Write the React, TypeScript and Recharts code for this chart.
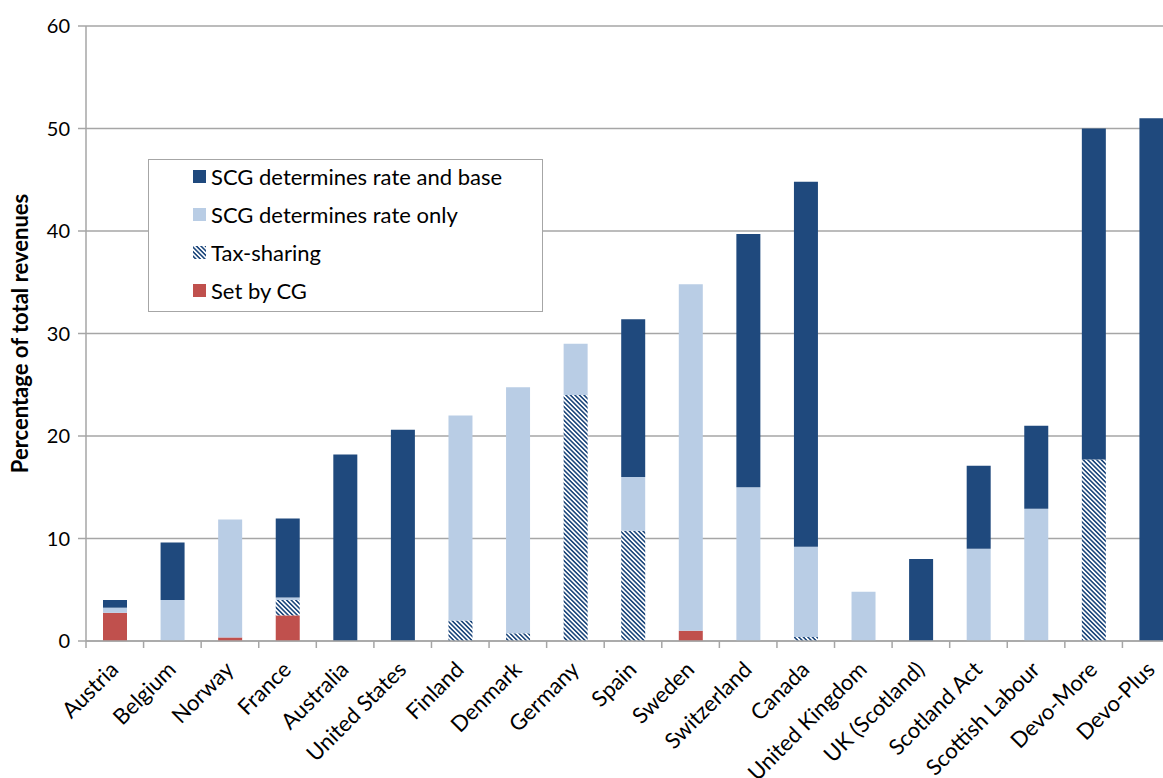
import { BarChart, Bar, XAxis, YAxis, CartesianGrid } from 'recharts';

const categories = [
    'Austria', 'Belgium', 'Norway', 'France', 'Australia', 'United States', 'Finland',
    'Denmark', 'Germany', 'Spain', 'Sweden', 'Switzerland', 'Canada', 'United Kingdom',
    'UK (Scotland)', 'Scotland Act', 'Scottish Labour', 'Devo-More', 'Devo-Plus'
];

const setByCG = [2.75, 0, 0.35, 2.5, 0, 0, 0, 0, 0, 0, 1.0, 0, 0, 0, 0, 0, 0, 0, 0];
const taxSharing = [0, 0, 0, 1.5, 0, 0, 2, 0.75, 24, 10.75, 0, 0, 0.4, 0, 0, 0, 0, 17.7, 0];
const rateOnly = [0.5, 4.0, 11.5, 0.25, 0, 0, 20, 24, 5, 5.25, 33.8, 15, 8.8, 4.8, 0, 9, 12.9, 0, 0];
const rateAndBase = [0.75, 5.6, 0, 7.7, 18.2, 20.6, 0, 0, 0, 15.4, 0, 24.7, 35.6, 0, 8, 8.1, 8.1, 32.3, 51];

const yTicks = [0, 10, 20, 30, 40, 50, 60];

const DARK = '#1f497d';
const LIGHT = '#b9cde5';
const RED = '#c0504d';
const GRID = '#a6a6a6';
const FONT = 'Lato, sans-serif';

const data = categories.map((name, i) => ({
    name,
    setByCG: setByCG[i],
    taxSharing: taxSharing[i],
    rateOnly: rateOnly[i],
    rateAndBase: rateAndBase[i],
}));

const legendItems = [
    { label: 'SCG determines rate and base', fill: DARK },
    { label: 'SCG determines rate only', fill: LIGHT },
    { label: 'Tax-sharing', fill: 'url(#hatch)' },
    { label: 'Set by CG', fill: RED },
];

const CHART_W = 1180;
const CHART_H = 778;
const BAND = (CHART_W - 86) / categories.length;

function CategoryTick(props: any) {
    const { x, y, payload } = props;
    const tx = x + 5;
    const ty = y + 22;
    return (
        <g>
            <line x1={x - BAND / 2} y1={y - 8} x2={x - BAND / 2} y2={y - 1} stroke={GRID} strokeWidth={1.5} />
            <text
                x={tx}
                y={ty}
                textAnchor="end"
                fontFamily={FONT}
                fontSize={22}
                fill="#000"
                transform={`rotate(-45 ${tx} ${ty})`}
            >
                {payload.value}
            </text>
        </g>
    );
}

function LegendBox() {
    return (
        <div style={{
            position: 'absolute', left: 148, top: 159, width: 395, height: 153,
            border: '1.5px solid #a6a6a6', background: '#fff',
            boxSizing: 'border-box', fontFamily: FONT
        }}>
            <div style={{ position: 'relative', top: -3 }}>
                {legendItems.map(item => (
                    <div key={item.label} style={{ display: 'flex', alignItems: 'center', height: 38, paddingLeft: 44 }}>
                        <svg width={13} height={13} style={{ marginRight: 5 }}>
                            <rect width={13} height={13} fill={item.fill} />
                        </svg>
                        <span style={{ fontSize: 22, color: '#000' }}>{item.label}</span>
                    </div>
                ))}
            </div>
        </div>
    );
}

export default function App() {
    return (
        <div style={{ position: 'absolute', left: 0, top: 0, width: 1163, height: 778, overflow: 'hidden', background: '#fff' }}>
            <svg width={0} height={0} style={{ position: 'absolute' }}>
                <defs>
                    <pattern id="hatch" width={3.2} height={3.2} patternUnits="userSpaceOnUse" patternTransform="rotate(45)">
                        <rect width={3.2} height={3.2} fill="#fff" />
                        <rect width={3.2} height={1.6} fill={DARK} />
                    </pattern>
                </defs>
            </svg>
            <BarChart
                width={CHART_W}
                height={CHART_H}
                data={data}
                margin={{ top: 26, right: 0, bottom: 0, left: 0 }}
                barSize={24}
            >
                <CartesianGrid vertical={false} stroke={GRID} strokeWidth={1.5} />
                <XAxis
                    dataKey="name"
                    interval={0}
                    height={137}
                    stroke={GRID}
                    strokeWidth={1.5}
                    tickLine={false}
                    tick={<CategoryTick />}
                />
                <YAxis
                    width={86}
                    domain={[0, 60]}
                    ticks={yTicks}
                    stroke={GRID}
                    strokeWidth={1.5}
                    tickSize={8}
                    tick={{ fill: '#000', fontSize: 20, fontFamily: FONT, dx: -6 }}
                    label={(props: any) => {
                        const vb = props.viewBox;
                        const cx = 19;
                        const cy = vb.y + vb.height / 2;
                        return (
                            <text x={cx} y={cy} textAnchor="middle" dominantBaseline="central"
                                fontFamily={FONT} fontSize={22} fontWeight="bold" fill="#000"
                                transform={`rotate(-90 ${cx} ${cy})`}>
                                Percentage of total revenues
                            </text>
                        );
                    }}
                />
                <Bar dataKey="setByCG" stackId="a" fill={RED} isAnimationActive={false} />
                <Bar dataKey="taxSharing" stackId="a" fill="url(#hatch)" isAnimationActive={false} />
                <Bar dataKey="rateOnly" stackId="a" fill={LIGHT} isAnimationActive={false} />
                <Bar dataKey="rateAndBase" stackId="a" fill={DARK} isAnimationActive={false} />
            </BarChart>
            <LegendBox />
        </div>
    );
}
